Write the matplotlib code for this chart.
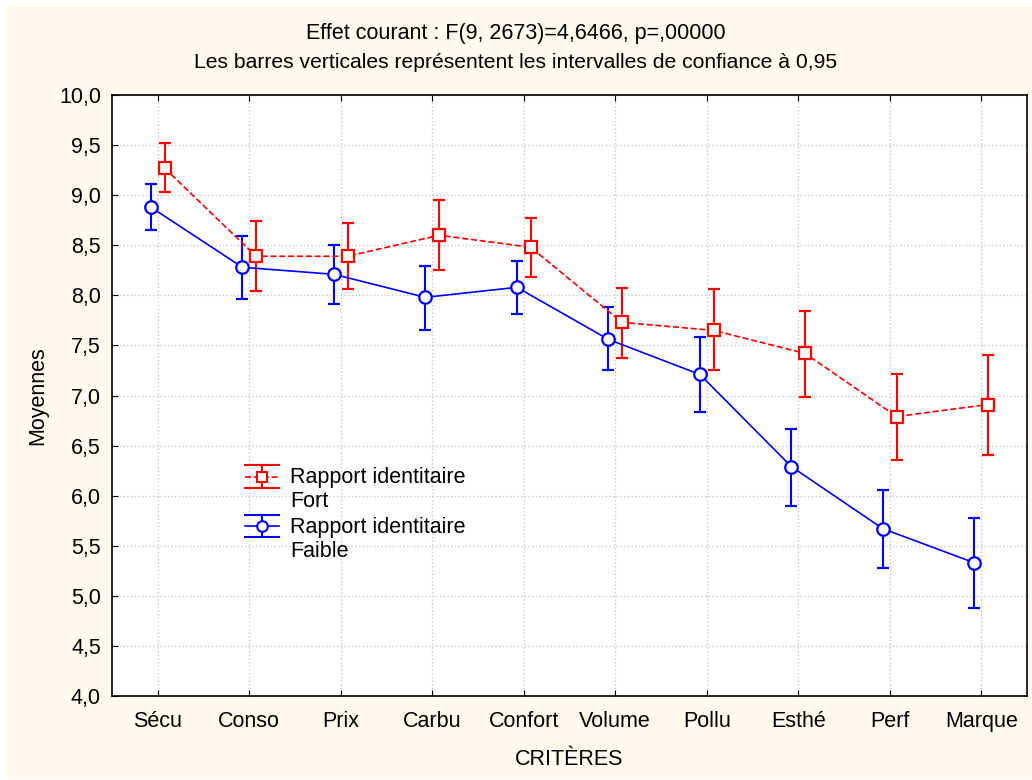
import matplotlib.pyplot as plt
from matplotlib.container import ErrorbarContainer
from matplotlib.legend_handler import HandlerBase
from matplotlib.lines import Line2D
from matplotlib.patches import Rectangle
import numpy as np

plt.rcParams["font.family"] = ["Liberation Sans", "DejaVu Sans"]

# Data
criteres = ["Sécu", "Conso", "Prix", "Carbu", "Confort", "Volume", "Pollu", "Esthé", "Perf", "Marque"]

fort_mean = [9.27, 8.39, 8.39, 8.60, 8.48, 7.73, 7.65, 7.42, 6.79, 6.91]
fort_low = [9.03, 8.04, 8.06, 8.25, 8.18, 7.37, 7.25, 6.99, 6.36, 6.41]
fort_high = [9.52, 8.74, 8.72, 8.95, 8.77, 8.07, 8.06, 7.84, 7.21, 7.40]

faible_mean = [8.88, 8.28, 8.21, 7.98, 8.08, 7.56, 7.21, 6.29, 5.67, 5.33]
faible_low = [8.65, 7.96, 7.91, 7.65, 7.81, 7.25, 6.84, 5.90, 5.28, 4.88]
faible_high = [9.11, 8.59, 8.50, 8.29, 8.34, 7.88, 7.58, 6.67, 6.06, 5.78]

y_ticks = np.arange(4.0, 10.01, 0.5)

FS = 15.5


class WideCapHandler(HandlerBase):
    """legend handle : caps as wide as the handle, like the original"""

    def create_artists(self, legend, orig_handle, xdescent, ydescent,
                       width, height, fontsize, trans):
        line = orig_handle.lines[0]
        c = line.get_color()
        x0, x1 = -xdescent, -xdescent + width
        xm = (x0 + x1) / 2
        ym = -ydescent + height / 2 + 0.64 * fontsize
        h = 0.53 * fontsize
        arts = [
            Line2D([x0, x1], [ym + h, ym + h], color=c, lw=1.5),
            Line2D([x0, x1], [ym - h, ym - h], color=c, lw=1.5),
            Line2D([xm, xm], [ym - h, ym + h], color=c, lw=1.5),
            Line2D([x0, x1], [ym, ym], color=c, lw=1.2, ls=line.get_linestyle()),
            Line2D([xm], [ym], marker=line.get_marker(), ms=line.get_markersize() * 0.85,
                   mfc="white", mec=c, mew=1.5, ls="none"),
        ]
        for a in arts:
            a.set_transform(trans)
        return arts


fig = plt.figure(figsize=(10.32, 7.8), dpi=100)
fig.patch.set_facecolor("white")
fig.patches.append(Rectangle((6 / 1032, 1 - 779 / 780), (1032 - 6) / 1032, (779 - 6) / 780,
                             transform=fig.transFigure, facecolor="#fff9ef",
                             edgecolor="none", zorder=-10))
ax = fig.add_axes([112 / 1032, 1 - 696 / 780, (1027 - 112) / 1032, (696 - 95) / 780])
ax.set_facecolor("white")

x = np.arange(len(criteres))
off = 0.075


def err(mean, low, high):
    m = np.array(mean)
    return [m - np.array(low), np.array(high) - m]


eb_fort = ax.errorbar(x + off, fort_mean, yerr=err(fort_mean, fort_low, fort_high),
                      color="#ff0000", ls="--", lw=1.2, marker="s", ms=8.5, mfc="white",
                      mec="#ff0000", mew=1.6, capsize=4.5, elinewidth=1.5, capthick=1.5,
                      label="Rapport identitaire\nFort", zorder=3)
eb_faible = ax.errorbar(x - off, faible_mean, yerr=err(faible_mean, faible_low, faible_high),
                        color="#0000ff", ls="-", lw=1.2, marker="o", ms=9, mfc="white",
                        mec="#0000ff", mew=1.6, capsize=4.5, elinewidth=1.5, capthick=1.5,
                        label="Rapport identitaire\nFaible", zorder=3)

ax.set_xlim(-0.5, len(criteres) - 0.5)
ax.set_ylim(4.0, 10.0)
ax.set_xticks(x)
ax.set_xticklabels(criteres)
ax.set_yticks(y_ticks)
ax.set_yticklabels([f"{v:.1f}".replace(".", ",") for v in y_ticks])
ax.tick_params(direction="in", length=4, labelsize=FS, top=True)
ax.tick_params(axis="x", pad=11)
ax.tick_params(axis="y", pad=8)
ax.grid(True, color="#c8c8c8", ls=":", lw=1.0)
ax.set_axisbelow(True)
for s in ax.spines.values():
    s.set_linewidth(1.2)

ax.set_xlabel("CRITÈRES", fontsize=FS, labelpad=12)
ax.set_ylabel("Moyennes", fontsize=FS, labelpad=8)

fig.text(0.5, 1 - 33 / 780, "Effet courant : F(9, 2673)=4,6466, p=,00000",
         ha="center", va="center", fontsize=15.5)
fig.text(0.5, 1 - 62 / 780, "Les barres verticales représentent les intervalles de confiance à 0,95",
         ha="center", va="center", fontsize=15.2)

ax.legend(handles=[eb_fort, eb_faible], loc="upper left", bbox_to_anchor=(0.136, 0.395),
          frameon=False, fontsize=FS, handlelength=1.6, handletextpad=0.5,
          labelspacing=0.2, borderaxespad=0,
          handler_map={ErrorbarContainer: WideCapHandler()})

fig.savefig("out.png", dpi=100, facecolor=fig.get_facecolor())
